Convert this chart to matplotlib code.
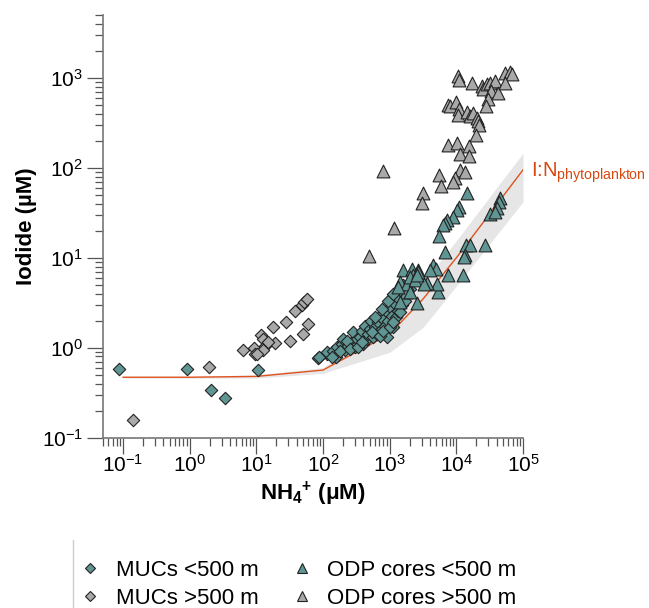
import matplotlib
matplotlib.use("Agg")
import matplotlib.pyplot as plt
from matplotlib.lines import Line2D
import matplotlib.ticker as mticker
import numpy as np

plt.rcParams['font.family'] = ['Liberation Sans', 'DejaVu Sans']
plt.rcParams['mathtext.fontset'] = 'custom'
plt.rcParams['mathtext.rm'] = 'Liberation Sans'
plt.rcParams['mathtext.it'] = 'Liberation Sans:italic'
plt.rcParams['mathtext.bf'] = 'Liberation Sans:bold'
plt.rcParams['axes.unicode_minus'] = False

# ---------------- data ----------------
muc_shallow_x = [0.087, 0.92, 2.08, 3.38, 10.7, 85, 113,
                 86.9, 113, 142, 156, 163, 190, 201, 213, 239, 268, 284, 301, 326, 357, 379, 401,
                 425, 450, 477, 505, 517, 554, 600, 636, 673, 713, 756, 800, 848, 899, 919, 951,
                 1007, 1068, 1105, 1197, 1239, 1268, 1341, 1421, 1507, 1597, 1692, 1792, 1897, 2010,
                 134, 179, 226, 253, 337, 379, 535, 713, 800, 1007, 1130, 1421, 600, 756, 951, 1130]
muc_shallow_y = [0.587, 0.578, 0.34, 0.276, 0.563, 0.76, 0.86,
                 0.78, 0.887, 0.925, 0.793, 1.01, 1.10, 1.25, 0.94, 1.05, 1.15, 1.48, 1.01, 1.25, 1.33, 1.55, 1.10,
                 1.76, 1.25, 1.42, 1.62, 2.00, 1.30, 1.69, 1.42, 1.92, 2.28, 1.62, 2.09, 1.76, 2.48, 1.33, 2.00,
                 2.82, 2.28, 1.69, 3.08, 2.18, 3.65, 2.59, 4.33, 2.95, 4.93, 3.35, 4.15, 5.15, 4.53,
                 0.78, 0.925, 1.20, 0.97, 1.01, 1.15, 1.48, 1.36, 1.55, 1.69, 1.92, 2.48, 2.18, 2.70, 3.35, 3.97]

muc_deep_x = [0.143, 1.97, 6.37, 9.2, 9.5, 11.6, 12.6, 13.5, 12.6, 17.5, 19, 27.8, 31.9,
              37.9, 47.7, 51.8, 56.8, 60.1, 50.6, 15.0, 10.1]
muc_deep_y = [0.156, 0.61, 0.94, 1.0, 0.86, 1.40, 1.25, 1.05, 0.94, 1.69, 1.12, 1.92, 1.19,
              2.59, 3.02, 3.21, 3.47, 1.84, 1.42, 1.15, 0.86]

odp_shallow_x = [14220, 11020, 10280, 8950, 7130, 6730, 6340, 5520, 6730, 13870, 15940, 13400, 12940,
                 26700, 44870, 43850, 40090, 31780, 37760, 12390, 7380, 4490, 4930, 4010, 5330, 5040,
                 3570, 2530, 1600, 2130, 2670, 2250, 1750, 1420, 1420, 1790, 2010, 1340, 2380, 3300,
                 2670, 2010, 2530]
odp_shallow_y = [52.2, 36.9, 33.9, 28.6, 26.2, 24.1, 23.1, 17.4, 11.6, 13.8, 13.8, 10.7, 10.2,
                 13.8, 45.8, 42.0, 35.5, 30.6, 32.5, 6.37, 6.37, 8.24, 7.57, 7.25, 4.15, 5.15,
                 5.23, 3.13, 7.25, 7.57, 7.25, 6.37, 4.15, 3.21, 5.37, 5.15, 6.10, 4.72, 5.6, 5.15,
                 6.9, 4.15, 6.37]

odp_deep_x = [10420, 11020, 17060, 23870, 25240, 28380, 31780, 37760, 32570, 42360, 53330, 63390,
              67260, 53330, 30000, 27700, 7530, 7990, 9840, 11020, 10650, 14220, 15940, 17860, 20090,
              21230, 21980, 19590, 7380, 10280, 15240, 11270, 15560, 800, 5520, 11270, 13400, 9500,
              5800, 8770, 493, 1156, 3110, 3070]
odp_deep_y = [1047, 945, 868, 809, 744, 846, 884, 921, 712, 684, 1122, 1161,
              1094, 884, 586, 493, 506, 484, 537, 453, 391, 415, 374, 408, 359,
              329, 302, 234, 181, 189, 176, 143, 134, 93.3, 83.5, 95, 91, 76.7,
              62.1, 70.3, 10.4, 21.7, 52.2, 41.0]

# I:N phytoplankton line and uncertainty band
in_x = [0.1, 1, 10, 100, 1000, 3180, 1e4, 1e5]
in_y = [0.47, 0.47, 0.48, 0.565, 1.42, 3.5, 10.0, 95]
in_lo = [0.46, 0.46, 0.46, 0.52, 0.89, 1.69, 4.85, 42]
in_hi = [0.48, 0.48, 0.50, 0.60, 2.0, 5.3, 15.5, 146]

x_major = [0.1, 1, 10, 100, 1000, 1e4, 1e5]
y_major = [0.1, 1, 10, 100, 1000]

labels = ['MUCs <500 m', 'MUCs >500 m', 'ODP cores <500 m', 'ODP cores >500 m']

teal = '#5f9694'
grey = '#a9a9a9'
line_col = '#e0521e'
text_col = '#d9480f'

# ---------------- figure ----------------
fig = plt.figure(figsize=(6.49, 6.08), dpi=100)
ax = fig.add_axes([0.1587, 0.2801, 0.6472, 0.6952])
ax.set_xscale('log')
ax.set_yscale('log')

ax.fill_between(in_x, in_lo, in_hi, color='#e6e6e6', lw=0, zorder=1)
ax.plot(in_x, in_y, color=line_col, lw=1.0, zorder=2)

ax.scatter(muc_deep_x, muc_deep_y, marker='D', s=40, c=grey, edgecolors='#222222', linewidths=0.8, zorder=3)
ax.scatter(muc_shallow_x, muc_shallow_y, marker='D', s=40, c=teal, edgecolors='#222222', linewidths=0.8, zorder=3)
ax.scatter(odp_deep_x, odp_deep_y, marker='^', s=85, c=grey, edgecolors='#222222', linewidths=0.8, zorder=4)
ax.scatter(odp_shallow_x, odp_shallow_y, marker='^', s=85, c=teal, edgecolors='#222222', linewidths=0.8, zorder=4)

ax.set_xlim(0.05, 1e5)
ax.set_ylim(0.1, 5000)

for s in ['top', 'right']:
    ax.spines[s].set_visible(False)
for s in ['left', 'bottom']:
    ax.spines[s].set_color('#777777')
    ax.spines[s].set_linewidth(1.2)

ax.xaxis.set_major_locator(mticker.FixedLocator(x_major))
ax.yaxis.set_major_locator(mticker.FixedLocator(y_major))
ax.xaxis.set_major_formatter(mticker.LogFormatterSciNotation(base=10))
ax.yaxis.set_major_formatter(mticker.LogFormatterSciNotation(base=10))
ax.xaxis.set_minor_locator(mticker.LogLocator(base=10, subs=np.arange(2, 10), numticks=20))
ax.yaxis.set_minor_locator(mticker.LogLocator(base=10, subs=np.arange(2, 10), numticks=20))
ax.xaxis.set_minor_formatter(mticker.NullFormatter())
ax.yaxis.set_minor_formatter(mticker.NullFormatter())

ax.tick_params(which='major', direction='out', length=11.5, width=0.9, color='#555555',
               labelsize=15)
ax.tick_params(axis='x', which='major', pad=0)
ax.tick_params(axis='y', which='major', pad=3)
ax.tick_params(which='minor', direction='out', length=5.5, width=0.9, color='#555555')

ax.set_xlabel(r'NH$_\mathbf{4}$$^\mathbf{+}$ ($\mathbf{\mu}$M)', fontsize=16, fontweight='bold', labelpad=3)
ax.set_ylabel('Iodide (µM)', fontsize=16, fontweight='bold', labelpad=3)

ax.text(1.019, 0.617, r'I:N$_{\mathrm{phytoplankton}}$', transform=ax.transAxes,
        fontsize=14.5, color=text_col, ha='left', va='baseline', clip_on=False)

# legend
handles = [
    Line2D([], [], ls='none', marker='D', ms=5, mfc=teal, mec='#222222', mew=0.8),
    Line2D([], [], ls='none', marker='D', ms=5, mfc=grey, mec='#222222', mew=0.8),
    Line2D([], [], ls='none', marker='^', ms=7, mfc=teal, mec='#222222', mew=0.8),
    Line2D([], [], ls='none', marker='^', ms=7, mfc=grey, mec='#222222', mew=0.8),
]
fig.legend(handles, labels, loc='upper left', bbox_to_anchor=(0.108, 0.094), ncol=2,
           frameon=False, fontsize=16, handlelength=1.0, handletextpad=0.65,
           columnspacing=1.45, labelspacing=0.32, borderaxespad=0)
fig.add_artist(Line2D([73/649, 73/649], [0, 1 - 540/608], color='#cccccc', lw=1.0))

fig.savefig('out.png', dpi=100)
